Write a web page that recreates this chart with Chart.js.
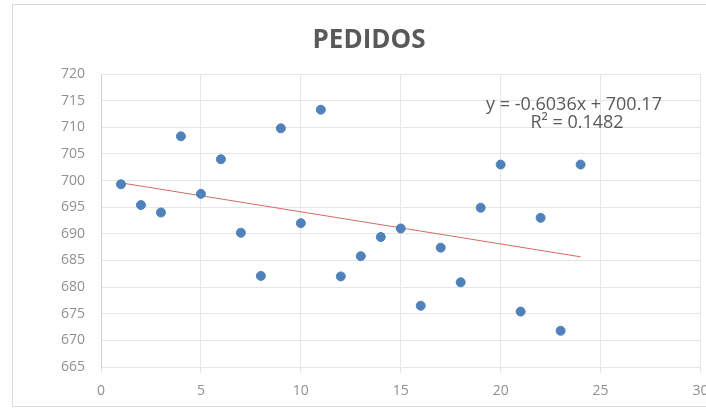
<!DOCTYPE html>
<html>
<head>
<meta charset="utf-8">
<script src="https://cdn.jsdelivr.net/npm/chart.js@4/dist/chart.umd.min.js"></script>
<style>
  html, body { margin: 0; padding: 0; background: #ffffff; }
  #wrap { position: relative; width: 706px; height: 409px; overflow: hidden; }
  #frame { position: absolute; left: 12px; top: 4px; width: 720px; height: 403px; border: 1px solid #d9d9d9; box-sizing: border-box; }
  #c { position: absolute; left: 0; top: 0; }
</style>
</head>
<body>
<div id="wrap">
  <div id="frame"></div>
  <canvas id="c" width="706" height="409"></canvas>
</div>
<script>
// Orders per period
const periods = [1, 2, 3, 4, 5, 6, 7, 8, 9, 10, 11, 12, 13, 14, 15, 16, 17, 18, 19, 20, 21, 22, 23, 24];
const pedidos = [699.3, 695.4, 694.0, 708.3, 697.5, 704.0, 690.2, 682.1, 709.8, 692.0, 713.3, 682.0,
                 685.8, 689.4, 691.0, 676.5, 687.4, 680.9, 694.9, 703.0, 675.4, 693.0, 671.8, 703.0];

// Linear trend fitted to the orders
const trendSlope = -0.6036;
const trendIntercept = 700.17;
const trendR2 = 0.1482;

const xTicks = [0, 5, 10, 15, 20, 25, 30];
const yTicks = [665, 670, 675, 680, 685, 690, 695, 700, 705, 710, 715, 720];

const chartTitle = 'PEDIDOS';

const pointData = periods.map((x, i) => ({ x: x, y: pedidos[i] }));
const xFirst = periods[0], xLast = periods[periods.length - 1];
const trendData = [
  { x: xFirst, y: trendSlope * xFirst + trendIntercept },
  { x: xLast, y: trendSlope * xLast + trendIntercept }
];

const eqLine1 = 'y = ' + trendSlope.toFixed(4) + 'x + ' + trendIntercept.toFixed(2);
const eqLine2 = 'R\u00B2 = ' + trendR2.toFixed(4);

const FONT = "'Open Sans', 'Liberation Sans', sans-serif";

// Chart title and trendline equation
const annotations = {
  id: 'annotations',
  afterDatasetsDraw(chart) {
    const ctx = chart.ctx;
    ctx.save();
    ctx.textAlign = 'center';
    ctx.textBaseline = 'middle';
    ctx.fillStyle = '#595959';
    ctx.font = "bold 26px " + FONT;
    ctx.fillText(chartTitle, 369, 41);
    ctx.font = "18px " + FONT;
    ctx.fillText(eqLine1, 574, 105);
    ctx.fillText(eqLine2, 577, 123);
    ctx.restore();
  }
};

new Chart(document.getElementById('c'), {
  type: 'scatter',
  data: {
    datasets: [
      {
        label: chartTitle,
        data: pointData,
        backgroundColor: '#5082b9',
        borderColor: '#5082b9',
        pointRadius: 4.5,
        pointHoverRadius: 4.5,
        order: 1
      },
      {
        label: 'Lineal (' + chartTitle + ')',
        type: 'line',
        data: trendData,
        borderColor: '#d46a64',
        borderWidth: 1,
        pointRadius: 0,
        fill: false,
        order: 2
      }
    ]
  },
  options: {
    responsive: false,
    animation: false,
    layout: { padding: { left: 12, right: 5, top: 74, bottom: 0 } },
    plugins: {
      legend: { display: false },
      tooltip: { enabled: false },
      title: { display: false }
    },
    scales: {
      x: {
        type: 'linear',
        min: 0,
        max: 30,
        afterBuildTicks: s => { s.ticks = xTicks.map(v => ({ value: v })); },
        afterFit: s => { s.height = 42; s.paddingLeft = 0; s.paddingRight = 0; },
        ticks: { color: '#909090', font: { family: FONT, size: 14 }, padding: 10, maxRotation: 0 },
        grid: { color: '#e6e6e6', tickColor: '#e6e6e6', tickLength: 6, drawTicks: true },
        border: { display: false }
      },
      y: {
        type: 'linear',
        min: 665,
        max: 720,
        afterBuildTicks: s => { s.ticks = yTicks.map(v => ({ value: v })); },
        afterFit: s => { s.width = 89; s.paddingTop = 0; s.paddingBottom = 0; },
        ticks: { color: '#909090', font: { family: FONT, size: 14 }, padding: 16 },
        grid: { color: '#e6e6e6', drawTicks: false },
        border: { display: true, color: '#d0d0d0' }
      }
    }
  },
  plugins: [annotations]
});
</script>
</body>
</html>
